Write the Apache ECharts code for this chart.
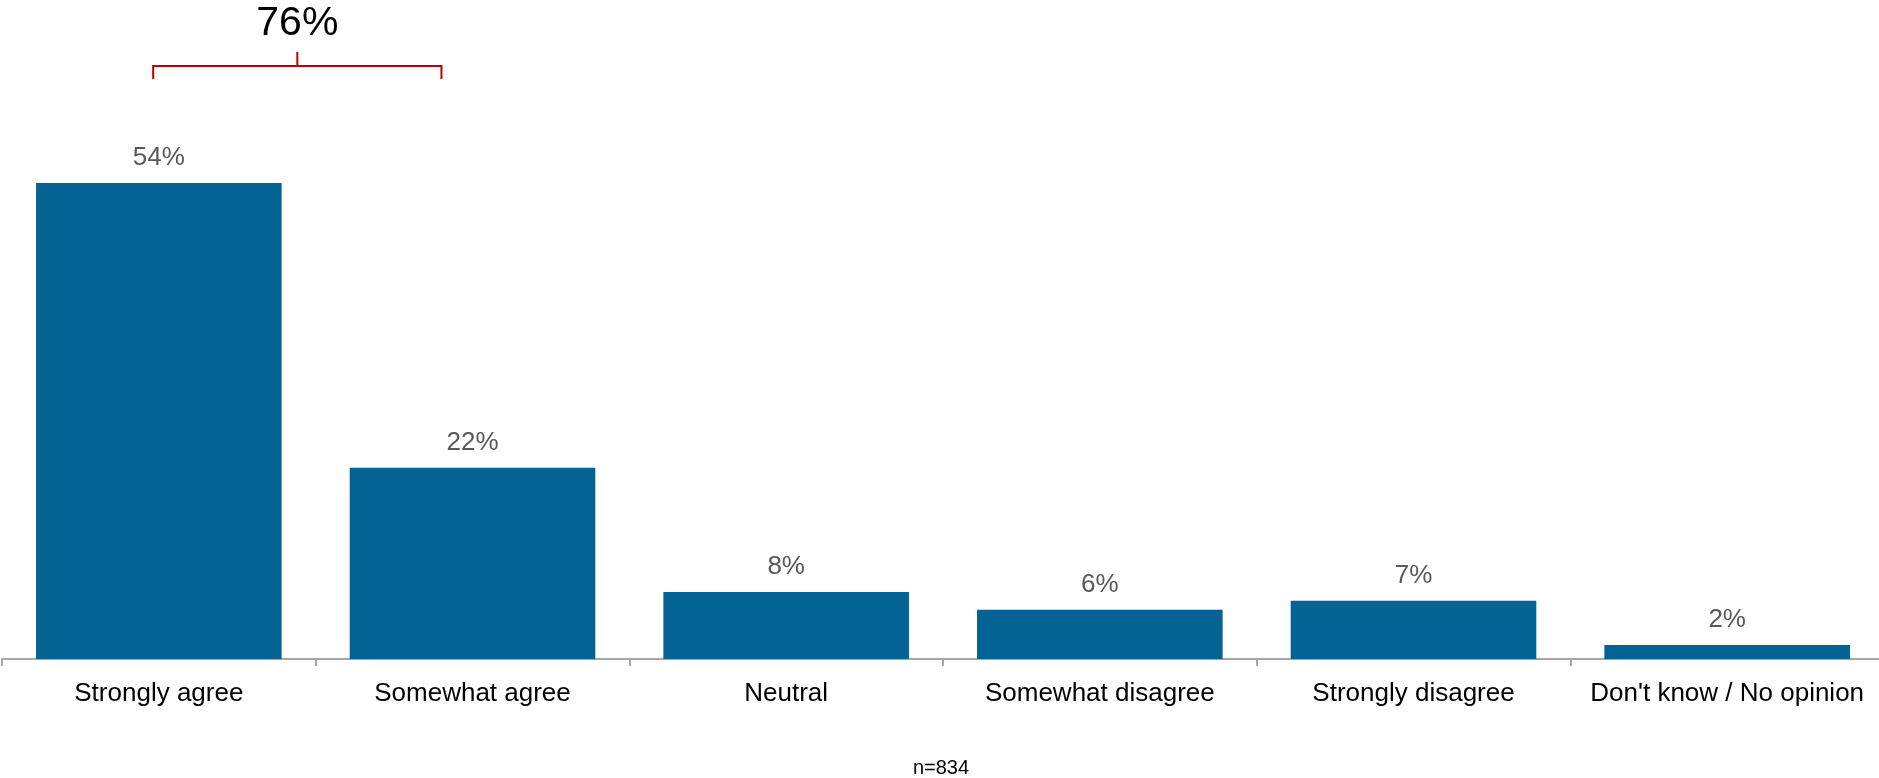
<!DOCTYPE html>
<html>
<head>
<meta charset="utf-8">
<script src="https://cdn.jsdelivr.net/npm/echarts@6/dist/echarts.min.js"></script>
<style>
html,body{margin:0;padding:0;background:#fff;overflow:hidden;width:1879px;height:778px;}
#chart{width:1890px;height:778px;}
</style>
</head>
<body>
<div id="chart"></div>
<script>
const categories = ["Strongly agree", "Somewhat agree", "Neutral", "Somewhat disagree", "Strongly disagree", "Don't know / No opinion"];
const values = [54.0, 21.7, 7.6, 5.6, 6.6, 1.6];
const netAgreeIdx = [0, 1];
const sampleNote = "n=834";

const FONT = '"Liberation Sans", Arial, sans-serif';
const chart = echarts.init(document.getElementById('chart'), null, {renderer: 'canvas'});

const option = {
  animation: false,
  backgroundColor: '#ffffff',
  grid: {left: 2, width: 1882, top: 130, bottom: 119, containLabel: false},
  xAxis: {
    type: 'category',
    data: categories,
    offset: 1,
    axisLine: {show: true, lineStyle: {color: '#a6a6a6', width: 2}},
    axisTick: {show: true, length: 7, lineStyle: {color: '#a6a6a6', width: 2}},
    axisLabel: {color: '#000000', fontFamily: FONT, fontSize: 26, margin: 21, interval: 0}
  },
  yAxis: {
    type: 'value', min: 0, max: 60, show: false,
    splitLine: {show: false}
  },
  series: [{
    type: 'bar',
    data: values,
    barCategoryGap: '21.7%',
    itemStyle: {color: '#036394'},
    label: {
      show: true, position: 'top', distance: 12,
      color: '#595959', fontFamily: FONT, fontSize: 26,
      formatter: p => Math.round(p.value) + '%'
    }
  }],
  graphic: []
};
chart.setOption(option);

// bracket annotation over the net-agree categories
const c0 = chart.convertToPixel({xAxisIndex: 0}, categories[netAgreeIdx[0]]);
const c1 = chart.convertToPixel({xAxisIndex: 0}, categories[netAgreeIdx[1]]);
const cw = c1 - c0;
const xl = c0 - 0.018 * cw;
const xr = c1 - 0.099 * cw;
const xm = (xl + xr) / 2;
const yBar = 66, yEnd = 79, yTop = 52;
const netVal = Math.round(netAgreeIdx.reduce((s, i) => s + values[i], 0));
const red = '#c00000';

chart.setOption({
  graphic: [
    {type: 'polyline', shape: {points: [[xl, yEnd], [xl, yBar], [xr, yBar], [xr, yEnd]]},
     style: {stroke: red, lineWidth: 2, fill: null}},
    {type: 'line', shape: {x1: xm, y1: yTop, x2: xm, y2: yBar}, style: {stroke: red, lineWidth: 2}},
    {type: 'text', x: xm, y: 24, style: {text: netVal + '%', fill: '#000000', font: '41px ' + FONT, textAlign: 'center', textVerticalAlign: 'middle'}},
    {type: 'text', x: 941, y: 768, style: {text: sampleNote, fill: '#000000', font: '20px ' + FONT, textAlign: 'center', textVerticalAlign: 'middle'}}
  ]
});
</script>
</body>
</html>
